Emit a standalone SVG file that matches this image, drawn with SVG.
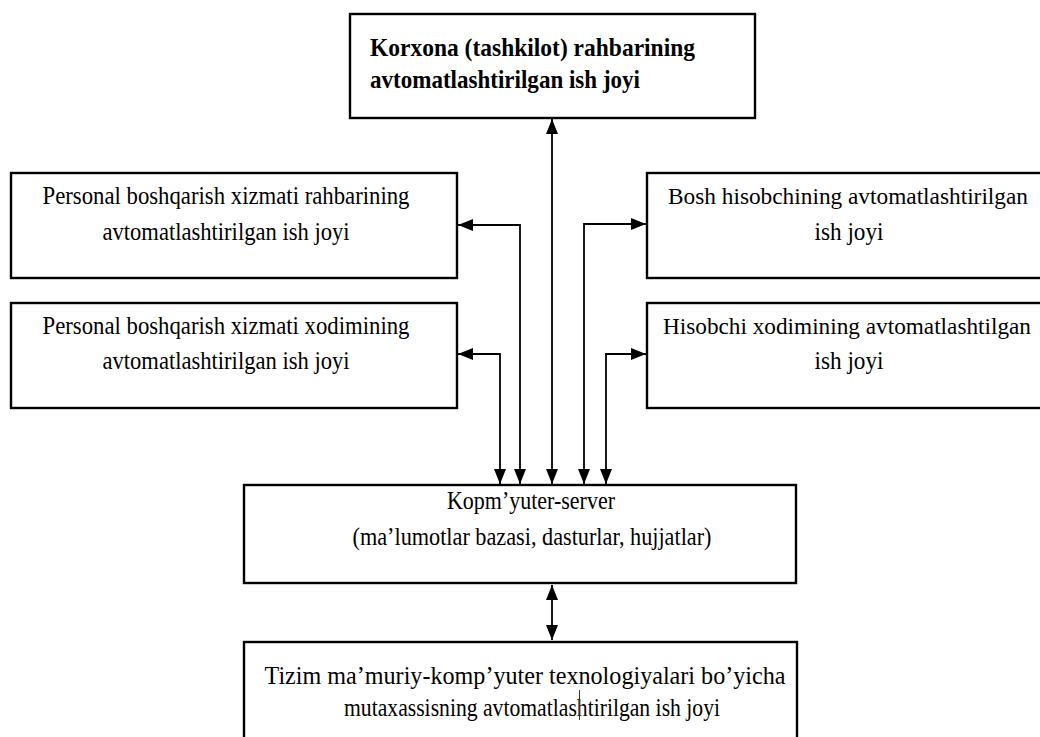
<svg xmlns="http://www.w3.org/2000/svg" width="1040" height="737" viewBox="0 0 1040 737">
<defs>
<marker id="ah" viewBox="0 0 15 12" refX="15" refY="6" markerWidth="15" markerHeight="12" markerUnits="userSpaceOnUse" orient="auto-start-reverse">
<path d="M0,0 L15,6 L0,12 Z" fill="#000"/>
</marker>
<style>
.box{fill:#fff;stroke:#000;stroke-width:2.4}
.t{font-family:"Liberation Serif","Times New Roman",serif;font-size:25px;fill:#000;text-anchor:middle}
.s{font-size:23.5px}
.b{font-family:"Liberation Serif","Times New Roman",serif;font-size:25px;font-weight:bold;fill:#000}
.c{fill:none;stroke:#000;stroke-width:1.8;marker-start:url(#ah);marker-end:url(#ah)}
</style>
</defs>
<rect width="1040" height="737" fill="#fff"/>
<g id="connectors">
<path class="c" d="M552,119 L552,484"/>
<path class="c" d="M520,484 L520,225 L458,225"/>
<path class="c" d="M500,484 L500,354 L458,354"/>
<path class="c" d="M584,484 L584,224 L646,224"/>
<path class="c" d="M606,484 L606,354 L646,354"/>
<path class="c" d="M552,585 L552,640"/>
</g>
<g id="top">
<rect class="box" x="350" y="14" width="405" height="104"/>
<text class="b" x="370" y="56" textLength="325" lengthAdjust="spacingAndGlyphs">Korxona (tashkilot) rahbarining</text>
<text class="b" x="370" y="88" textLength="270" lengthAdjust="spacingAndGlyphs">avtomatlashtirilgan ish joyi</text>
</g>
<g id="left1">
<rect class="box" x="11" y="173" width="446" height="105"/>
<text class="t" x="226" y="204" textLength="367" lengthAdjust="spacingAndGlyphs">Personal boshqarish xizmati rahbarining</text>
<text class="t" x="226" y="240" textLength="247" lengthAdjust="spacingAndGlyphs">avtomatlashtirilgan ish joyi</text>
</g>
<g id="left2">
<rect class="box" x="11" y="303" width="446" height="105"/>
<text class="t" x="226" y="334" textLength="367" lengthAdjust="spacingAndGlyphs">Personal boshqarish xizmati xodimining</text>
<text class="t" x="226" y="369" textLength="247" lengthAdjust="spacingAndGlyphs">avtomatlashtirilgan ish joyi</text>
</g>
<g id="right1">
<rect class="box" x="647" y="173" width="395" height="105"/>
<text class="t s" x="848" y="204" textLength="360" lengthAdjust="spacingAndGlyphs">Bosh hisobchining avtomatlashtirilgan</text>
<text class="t" x="849" y="240" textLength="69" lengthAdjust="spacingAndGlyphs">ish joyi</text>
</g>
<g id="right2">
<rect class="box" x="647" y="303" width="395" height="105"/>
<text class="t s" x="847" y="334" textLength="368" lengthAdjust="spacingAndGlyphs">Hisobchi xodimining avtomatlashtilgan</text>
<text class="t" x="849" y="369" textLength="69" lengthAdjust="spacingAndGlyphs">ish joyi</text>
</g>
<g id="server">
<rect class="box" x="244" y="485" width="552" height="98"/>
<text class="t" x="531" y="509" textLength="168" lengthAdjust="spacingAndGlyphs">Kopm’yuter-server</text>
<text class="t" x="532" y="545" textLength="359" lengthAdjust="spacingAndGlyphs">(ma’lumotlar bazasi, dasturlar, hujjatlar)</text>
</g>
<g id="bottom">
<rect class="box" x="244" y="642" width="553" height="110"/>
<text class="t" x="525" y="684" textLength="521" lengthAdjust="spacingAndGlyphs">Tizim ma’muriy-komp’yuter texnologiyalari bo’yicha</text>
<text class="t" x="532" y="716" textLength="376" lengthAdjust="spacingAndGlyphs">mutaxassisning avtomatlashtirilgan ish joyi</text>
<line x1="579.5" y1="690" x2="579.5" y2="720" stroke="#333" stroke-width="1"/>
</g>
</svg>
